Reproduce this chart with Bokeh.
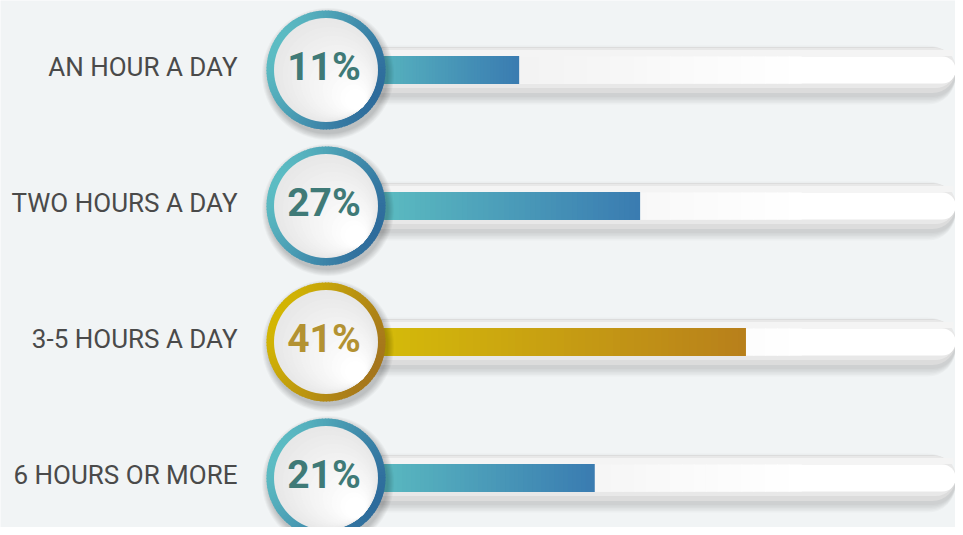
import numpy as np
from bokeh.plotting import figure
from bokeh.models import Range1d
from bokeh.core.properties import value
from bokeh.embed import file_html
from bokeh.resources import INLINE

# ---- data ----
categories = ["AN HOUR A DAY", "TWO HOURS A DAY", "3-5 HOURS A DAY", "6 HOURS OR MORE"]
values = [11, 27, 41, 21]
pct_labels = ["11%", "27%", "41%", "21%"]
highlight = [False, False, True, False]

# ---- styles ----
BG = "#f1f4f5"
TEAL_L, TEAL_R = (92, 188, 195), (46, 108, 156)
TEALBAR_L, TEALBAR_R = (92, 189, 193), (58, 124, 177)
GOLD_L, GOLD_R = (211, 182, 3), (165, 118, 28)
GOLDBAR_L, GOLDBAR_R = (212, 185, 10), (184, 128, 27)
TEAL_TXT, GOLD_TXT = "#3f7a77", "#b39232"

W, H = 955, 527
PX_X = 7.56            # px per percent
X0_PX = 435.5          # px position of 0 %
ROW_PX = 136.0
ROW0_PX = 69.5

def dx(px):
    return px / PX_X

def dy(px):
    return px / ROW_PX

def mix(c0, c1, t):
    t = min(max(t, 0.0), 1.0)
    return "#%02x%02x%02x" % tuple(int(round(a + (b - a) * t)) for a, b in zip(c0, c1))

p = figure(width=W, height=H,
           x_range=Range1d(-X0_PX / PX_X, (W - X0_PX) / PX_X),
           y_range=Range1d((H - ROW0_PX) / ROW_PX, -ROW0_PX / ROW_PX),
           output_backend="svg", toolbar_location=None,
           x_axis_location=None, y_axis_location=None, min_border=0,
           background_fill_color=BG, border_fill_color=BG, outline_line_color=None)
p.grid.grid_line_color = None

rows = np.arange(len(categories), dtype=float)
cx = (325.5 - X0_PX) / PX_X          # circle centre (data x)
track_in_right = (957 - X0_PX) / PX_X
track_out_right = (963 - X0_PX) / PX_X

# track shadow
for k in range(6):
    p.hbar(y=rows + dy(5), left=cx, right=track_out_right + dx(k), height=dy(44 + 3 * k),
           fill_color="black", fill_alpha=0.022, line_color=None, border_radius=22 + k)
# outer track
p.hbar(y=rows, left=cx, right=track_out_right, height=dy(46), fill_color="#dcdcdc",
       line_color=None, border_radius=23)
p.hbar(y=rows - dy(2), left=cx, right=track_out_right - dx(1), height=dy(40), fill_color="#e8e8e8",
       line_color=None, border_radius=20)
p.hbar(y=rows - dy(17), left=cx, right=track_out_right - dx(10), height=dy(6), fill_color="#f4f4f4",
       line_color=None)
# inner track
p.hbar(y=rows, left=cx, right=track_in_right, height=dy(27), fill_color="#ffffff",
       line_color=None, border_radius=13)
gx = np.linspace(cx, (800 - X0_PX) / PX_X, 41)
for i in range(40):
    p.hbar(y=rows, left=gx[i], right=gx[i + 1] + dx(1.2), height=dy(27),
           fill_color=mix((234, 234, 234), (255, 255, 255), i / 39), line_color=None)

# filled bars (gradient slices)
N = 60
for r, (v, hl) in enumerate(zip(values, highlight)):
    c0, c1 = (GOLDBAR_L, GOLDBAR_R) if hl else (TEALBAR_L, TEALBAR_R)
    edges = np.linspace(cx, v, N + 1)
    cols = [mix(c0, c1, (i / (N - 1) - 0.15) / 0.85) for i in range(N)]
    right = np.append(edges[1:-1] + dx(1.2), edges[-1])
    p.hbar(y=[rows[r]] * N, left=edges[:-1], right=right, height=dy(28),
           fill_color=cols, line_color=None)

# circle shadows
for k in range(7):
    p.circle(x=[cx + dx(2)] * len(rows), y=rows + dy(4), radius=60 + k, radius_units="screen",
             fill_color="black", fill_alpha=0.03, line_color=None)

# rings
M = 120
ang = np.linspace(0, 2 * np.pi, M + 1)
phi = np.deg2rad(-25)
for r, hl in enumerate(highlight):
    c0, c1 = (GOLD_L, GOLD_R) if hl else (TEAL_L, TEAL_R)
    mid = (ang[:-1] + ang[1:]) / 2
    cols = [mix(c0, c1, (1 + np.cos(a - phi)) / 2) for a in mid]
    p.annular_wedge(x=[cx] * M, y=[rows[r]] * M, inner_radius=51, outer_radius=59.5,
                    inner_radius_units="screen", outer_radius_units="screen",
                    start_angle=ang[:-1], end_angle=ang[1:] + 0.015,
                    fill_color=cols, line_color=None)

# inner discs with soft gradient
p.circle(x=[cx] * len(rows), y=rows, radius=52, radius_units="screen",
         fill_color="#e8e8e8", line_color=None)
K = 16
for i in range(1, K + 1):
    rad = 52 - i * 2.6
    off = (52 - rad) * 0.707
    p.circle(x=[cx + dx(off)] * len(rows), y=rows + dy(off), radius=rad, radius_units="screen",
             fill_color=mix((232, 232, 232), (255, 255, 255), i / K), line_color=None)

# percent labels
for r, (lab, hl) in enumerate(zip(pct_labels, highlight)):
    p.text(x=[cx], y=[rows[r]], text=[lab], text_align="center", text_baseline="middle",
           x_offset=-2, y_offset=-3, text_font=value("Roboto"), text_font_style="bold",
           text_font_size="39px", text_color=GOLD_TXT if hl else TEAL_TXT)

# category labels
p.text(x=[(237 - X0_PX) / PX_X] * len(rows), y=rows, text=categories, text_align="right",
       text_baseline="middle", y_offset=-3, text_font=value("Roboto"),
       text_font_size="26px", text_color="#4a4a4a")

open("out.html", "w").write(file_html(p, INLINE))
